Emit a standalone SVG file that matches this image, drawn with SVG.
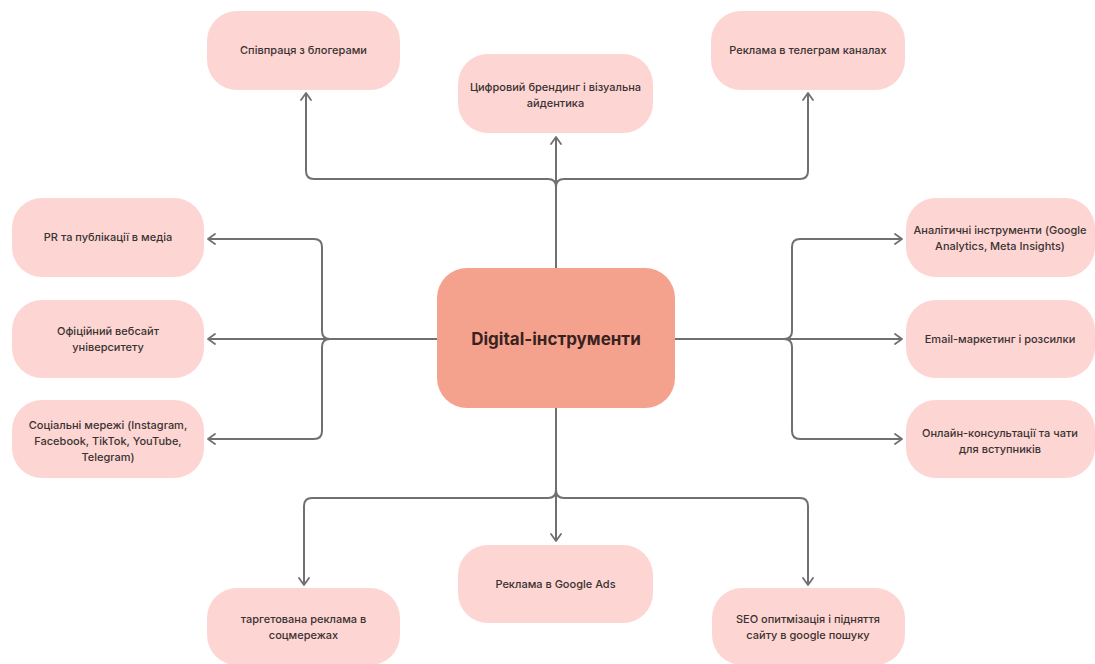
<svg xmlns="http://www.w3.org/2000/svg" width="1095" height="664" viewBox="0 0 1095 664">
  <style>
    .node rect { fill: #fdd6d3; }
    .node text { font-family: Inter, "Noto Sans", "DejaVu Sans", sans-serif; font-size: 11px; font-weight: 500; fill: #3a3232; text-anchor: middle; }
    #hub rect { fill: #f4a28e; }
    #hub text { font-family: Inter, "Noto Sans", "DejaVu Sans", sans-serif; font-size: 17px; font-weight: 700; fill: #3a2220; text-anchor: middle; }
    .conn path { fill: none; stroke: #707070; stroke-width: 2; stroke-linejoin: round; }
  </style>
  <defs>
    <marker id="arrow" viewBox="0 0 12 12" refX="10" refY="6" markerWidth="12" markerHeight="12" markerUnits="userSpaceOnUse" orient="auto">
      <path d="M3,1 L10,6 L3,11" fill="none" stroke="#707070" stroke-width="1.8" stroke-linecap="round" stroke-linejoin="round"/>
    </marker>
  </defs>
  <rect width="1095" height="664" fill="#ffffff"/>

  <!-- connectors -->
  <g id="connectors" class="conn">
    <!-- upward branches -->
    <path d="M556,268 V187 Q556,179 548,179 H314 Q306,179 306,171 V93" marker-end="url(#arrow)"/>
    <path d="M556,268 V137" marker-end="url(#arrow)"/>
    <path d="M556,268 V187 Q556,179 564,179 H800 Q808,179 808,171 V93" marker-end="url(#arrow)"/>
    <!-- left branches -->
    <path d="M437,339 H330 Q322,339 322,331 V247 Q322,239 314,239 H208" marker-end="url(#arrow)"/>
    <path d="M437,339 H208" marker-end="url(#arrow)"/>
    <path d="M437,339 H330 Q322,339 322,347 V431 Q322,439 314,439 H208" marker-end="url(#arrow)"/>
    <!-- right branches -->
    <path d="M675,339 H784 Q792,339 792,331 V247 Q792,239 800,239 H902" marker-end="url(#arrow)"/>
    <path d="M675,339 H902" marker-end="url(#arrow)"/>
    <path d="M675,339 H784 Q792,339 792,347 V431 Q792,439 800,439 H902" marker-end="url(#arrow)"/>
    <!-- downward branches -->
    <path d="M556,408 V490 Q556,498 548,498 H312 Q304,498 304,506 V585" marker-end="url(#arrow)"/>
    <path d="M556,408 V541" marker-end="url(#arrow)"/>
    <path d="M556,408 V490 Q556,498 564,498 H800 Q808,498 808,506 V585" marker-end="url(#arrow)"/>
  </g>

  <!-- central node -->
  <g id="hub">
    <rect x="437" y="268" width="238" height="140" rx="30"/>
    <text x="556" y="345">Digital-інструменти</text>
  </g>

  <!-- top row -->
  <g id="bloggers" class="node">
    <rect x="207" y="11" width="193" height="79" rx="30"/>
    <text x="303.5" y="54">Співпраця з блогерами</text>
  </g>
  <g id="branding" class="node">
    <rect x="458" y="54" width="195" height="79" rx="30"/>
    <text x="555.5" y="91">Цифровий брендинг і візуальна</text>
    <text x="555.5" y="107">айдентика</text>
  </g>
  <g id="telegram-ads" class="node">
    <rect x="711" y="11" width="194" height="79" rx="30"/>
    <text x="808" y="54">Реклама в телеграм каналах</text>
  </g>

  <!-- left column -->
  <g id="pr" class="node">
    <rect x="12" y="198" width="192" height="79" rx="30"/>
    <text x="108" y="241">PR та публікації в медіа</text>
  </g>
  <g id="website" class="node">
    <rect x="12" y="300" width="192" height="78" rx="30"/>
    <text x="108" y="335">Офіційний вебсайт</text>
    <text x="108" y="351">університету</text>
  </g>
  <g id="social" class="node">
    <rect x="12" y="400" width="192" height="78" rx="30"/>
    <text x="108" y="429">Соціальні мережі (Instagram,</text>
    <text x="108" y="445">Facebook, TikTok, YouTube,</text>
    <text x="108" y="461">Telegram)</text>
  </g>

  <!-- right column -->
  <g id="analytics" class="node">
    <rect x="906" y="198" width="189" height="79" rx="30"/>
    <text x="1000" y="234">Аналітичні інструменти (Google</text>
    <text x="1000" y="250">Analytics, Meta Insights)</text>
  </g>
  <g id="email" class="node">
    <rect x="906" y="300" width="189" height="78" rx="30"/>
    <text x="1000" y="343">Email-маркетинг і розсилки</text>
  </g>
  <g id="consult" class="node">
    <rect x="906" y="400" width="189" height="78" rx="30"/>
    <text x="1000" y="437">Онлайн-консультації та чати</text>
    <text x="1000" y="453">для вступників</text>
  </g>

  <!-- bottom row -->
  <g id="targeting" class="node">
    <rect x="207" y="588" width="193" height="77" rx="30"/>
    <text x="303.5" y="623">таргетована реклама в</text>
    <text x="303.5" y="639">соцмережах</text>
  </g>
  <g id="google-ads" class="node">
    <rect x="458" y="545" width="195" height="78" rx="30"/>
    <text x="555.5" y="588">Реклама в Google Ads</text>
  </g>
  <g id="seo" class="node">
    <rect x="712" y="588" width="193" height="77" rx="30"/>
    <text x="808" y="623">SEO опитмізація і підняття</text>
    <text x="808" y="639">сайту в google пошуку</text>
  </g>
</svg>
